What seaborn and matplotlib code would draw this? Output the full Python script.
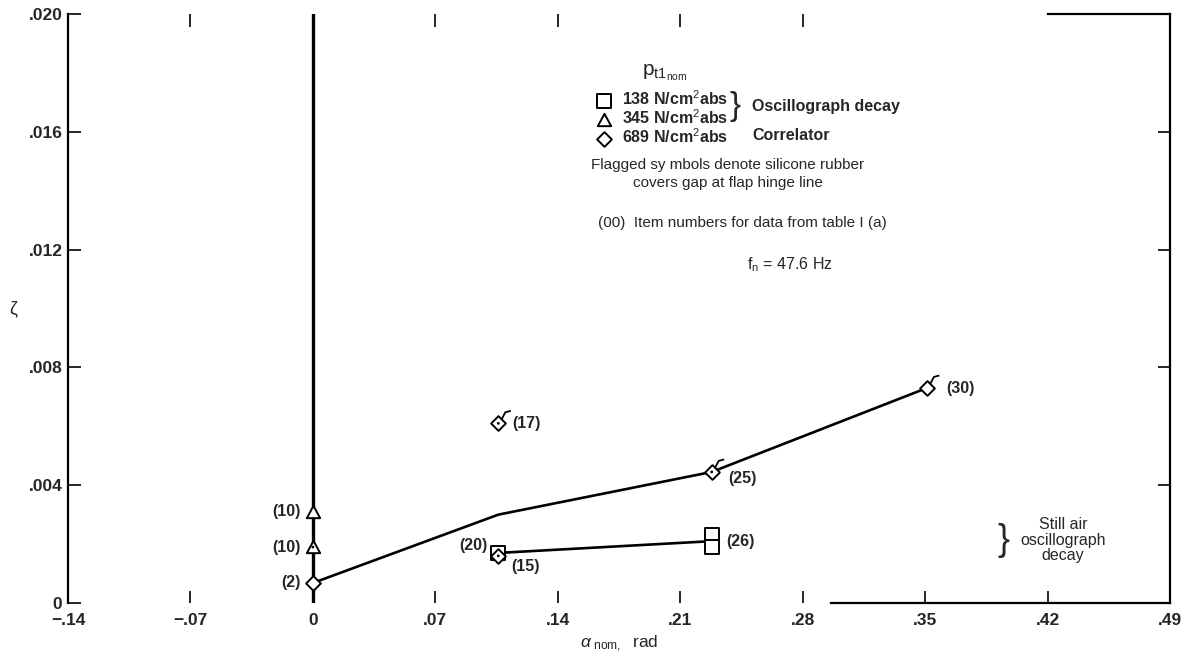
import numpy as np
import matplotlib
matplotlib.use("Agg")
import matplotlib.pyplot as plt
from matplotlib.path import Path
import seaborn as sns

# ---- data ----
# faired curves
fair_hi_x = [0.0, 0.106, 0.228, 0.351]
fair_hi_y = [0.00068, 0.0030, 0.00445, 0.0073]
fair_lo_x = [0.106, 0.228]
fair_lo_y = [0.0017, 0.0021]

# 138 N/cm2 abs (squares)
sq_x = [0.106, 0.228, 0.228]
sq_y = [0.0017, 0.0023, 0.0019]
sq_items = ["(20)", "(26)", ""]

# 345 N/cm2 abs (triangles)
tri_x = [0.0, 0.0]
tri_y = [0.0031, 0.0019]
tri_items = ["(10)", "(10)"]
tri_dot = [False, True]

# 689 N/cm2 abs (diamonds)
dia_x = [0.0, 0.106, 0.106, 0.228, 0.351]
dia_y = [0.00068, 0.0016, 0.0061, 0.00445, 0.0073]
dia_items = ["(2)", "(15)", "(17)", "(25)", "(30)"]
dia_flag = [False, False, True, True, True]
dia_dot = [False, True, True, True, False]

x_ticks = [-0.14, -0.07, 0, 0.07, 0.14, 0.21, 0.28, 0.35, 0.42, 0.49]
x_labels = ["\u2212.14", "\u2212.07", "0", ".07", ".14", ".21", ".28", ".35", ".42", ".49"]
top_ticks = [-0.07, 0.07, 0.14, 0.21, 0.28]
y_ticks = [0, 0.004, 0.008, 0.012, 0.016, 0.020]
y_labels = ["0", ".004", ".008", ".012", ".016", ".020"]

# label offsets in pixels (dx, dy, ha)
offsets = {
    "(10)": (-12, 0, "right"), "(2)": (-12, 0, "right"),
    "(20)": (-11, 7, "right"), "(15)": (13, -11, "left"),
    "(17)": (14, 0, "left"), "(25)": (17, -7, "left"),
    "(26)": (15, -6, "left"), "(30)": (19, 0, "left"),
}

sns.set_style("ticks")
plt.rcParams["font.family"] = ["Liberation Sans", "DejaVu Sans"]
plt.rcParams["mathtext.fontset"] = "custom"
plt.rcParams["mathtext.rm"] = "Liberation Sans"
plt.rcParams["mathtext.it"] = "Liberation Sans:italic"

fig = plt.figure(figsize=(11.91, 6.52), dpi=100)
W, H = 1191, 652
ax = fig.add_axes([68 / W, 1 - 603 / H, (1170 - 68) / W, (603 - 14) / H])

# marker shapes
sq_path = Path([(-1, -1), (1, -1), (1, 1), (-1, 1), (-1, -1)],
               [Path.MOVETO, Path.LINETO, Path.LINETO, Path.LINETO, Path.CLOSEPOLY])
tri_path = Path([(-1, -0.85), (1, -0.85), (0, 1), (-1, -0.85)],
                [Path.MOVETO, Path.LINETO, Path.LINETO, Path.CLOSEPOLY])
dia_path = Path([(0, -1), (1, 0), (0, 1), (-1, 0), (0, -1)],
                [Path.MOVETO, Path.LINETO, Path.LINETO, Path.LINETO, Path.CLOSEPOLY])
flag_path = Path([(0.45, 0.55), (0.95, 1.5), (1.7, 1.7)],
                 [Path.MOVETO, Path.LINETO, Path.LINETO])

ms = 9.6
ax.axvline(0, color="black", lw=2.4, zorder=1.5)

sns.lineplot(x=fair_hi_x, y=fair_hi_y, color="black", lw=1.9, sort=False,
             estimator=None, ax=ax, zorder=2)
sns.lineplot(x=fair_lo_x, y=fair_lo_y, color="black", lw=1.9, sort=False,
             estimator=None, ax=ax, zorder=2)

sns.scatterplot(x=sq_x, y=sq_y, marker=sq_path, s=ms ** 2, color="black",
                facecolor="white", edgecolor="black", linewidth=1.4, zorder=3,
                label="138 N/cm$^2$abs", ax=ax)
sns.scatterplot(x=tri_x, y=tri_y, marker=tri_path, s=ms ** 2, color="black",
                facecolor="white", edgecolor="black", linewidth=1.4, zorder=3,
                label="345 N/cm$^2$abs", ax=ax)
sns.scatterplot(x=dia_x, y=dia_y, marker=dia_path, s=(ms + 1) ** 2, color="black",
                facecolor="white", edgecolor="black", linewidth=1.4, zorder=3.2,
                label="689 N/cm$^2$abs", ax=ax)

fx = [x for x, f in zip(dia_x, dia_flag) if f]
fy = [y for y, f in zip(dia_y, dia_flag) if f]
sns.scatterplot(x=fx, y=fy, marker=flag_path, s=((ms + 1) * 1.7) ** 2, color="black",
                facecolor="none", edgecolor="black", linewidth=1.3, zorder=3.3, ax=ax)

dx = [x for x, d in zip(dia_x, dia_dot) if d] + [x for x, d in zip(tri_x, tri_dot) if d]
dy = [y for y, d in zip(dia_y, dia_dot) if d] + [y for y, d in zip(tri_y, tri_dot) if d]
sns.scatterplot(x=dx, y=dy, marker="o", s=4, color="black", edgecolor="none",
                zorder=4, ax=ax)

# item numbers
for xs, ys, items in [(sq_x, sq_y, sq_items), (tri_x, tri_y, tri_items),
                      (dia_x, dia_y, dia_items)]:
    for x, y, t in zip(xs, ys, items):
        if not t:
            continue
        ox, oy, ha = offsets[t]
        ax.annotate(t, (x, y), xytext=(ox, oy), textcoords="offset pixels",
                    ha=ha, va="center", fontsize=11.5, fontweight="bold")

# axes styling
ax.set_xlim(-0.14, 0.49)
ax.set_ylim(0, 0.020)
ax.set_xticks(x_ticks, x_labels)
ax.set_yticks(y_ticks, y_labels)
ax.tick_params(axis="both", direction="in", length=9, width=1.4, labelsize=12.5)
ax.tick_params(axis="x", pad=7)
ax.tick_params(axis="y", right=True, pad=4)
for lab in ax.get_xticklabels() + ax.get_yticklabels():
    lab.set_fontweight("bold")

for side in ["left", "right", "top", "bottom"]:
    ax.spines[side].set_linewidth(1.6)
    ax.spines[side].set_color("black")
ax.spines["bottom"].set_bounds(0.296, 0.49)
ax.spines["top"].set_bounds(0.42, 0.49)

secax = ax.secondary_xaxis("top")
secax.set_xticks(top_ticks, [""] * len(top_ticks))
secax.tick_params(direction="in", length=9, width=1.4)
secax.spines["top"].set_visible(False)

ax.set_xlabel(r"$\alpha_{\ \mathrm{nom},}$  rad", fontsize=12.5, labelpad=4)
ax.set_ylabel("\u03b6", fontsize=13, rotation=0, ha="center", va="center")
ax.yaxis.set_label_coords(-55 / 1102, 0.5)

# legend block
leg = ax.legend(loc="upper left", bbox_to_anchor=(596 / W, 1 - 89 / H),
                bbox_transform=fig.transFigure, frameon=False, fontsize=11.5,
                handletextpad=0.6, labelspacing=0.02, borderpad=0, handlelength=1.0,
                borderaxespad=0)
for t in leg.get_texts():
    t.set_fontweight("bold")

fig.text(642 / W, 1 - 75 / H, r"$\mathrm{p}_{\mathrm{t1}_{\mathrm{nom}}}$",
         fontsize=15, ha="left", va="baseline")
fig.text(729 / W, 1 - 107 / H, "}", fontsize=24, ha="left", va="center")
fig.text(752 / W, 1 - 107 / H, "Oscillograph decay", fontsize=11.5,
         fontweight="bold", ha="left", va="center")
fig.text(752 / W, 1 - 136 / H, "Correlator", fontsize=11.5,
         fontweight="bold", ha="left", va="center")
fig.text(728 / W, 1 - 165 / H, "Flagged sy mbols denote silicone rubber",
         fontsize=11, ha="center", va="center")
fig.text(728 / W, 1 - 183 / H, "covers gap at flap hinge line",
         fontsize=11, ha="center", va="center")
fig.text(598 / W, 1 - 223 / H, "(00)  Item numbers for data from table I (a)",
         fontsize=11, ha="left", va="center")
fig.text(790 / W, 1 - 265 / H, r"f$_\mathrm{n}$ = 47.6 Hz",
         fontsize=11.5, ha="center", va="center")

fig.text(997 / W, 1 - 540 / H, "}", fontsize=26, ha="left", va="center",
         fontweight="light")
fig.text(1063 / W, 1 - 540 / H, "Still air\noscillograph\ndecay", fontsize=11.5,
         ha="center", va="center", linespacing=1.05)

fig.savefig("out.png", dpi=100)
